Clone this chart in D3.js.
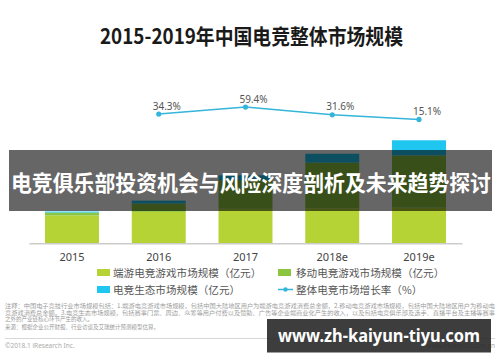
<!DOCTYPE html>
<html>
<head>
<meta charset="utf-8">
<script src="https://cdn.jsdelivr.net/npm/d3@7"></script>
<style>
  body { margin: 0; background: #fff; }
  svg { display: block; font-family: "Noto Sans CJK SC", "Noto Sans", sans-serif; }
</style>
</head>
<body>
<svg id="chart" width="500" height="362"></svg>
<script>
/*    ========    DATA    =========    */

var years = ["2015", "2016", "2017", "2018e", "2019e"];
var pcGame = [265, 300, 330, 335, 340];       // 端游电竞游戏市场规模（亿元）
var mobileGame = [29, 80, 275, 436, 500];     // 移动电竞游戏市场规模（亿元）
var ecosystem = [10, 28, 45, 85, 145];        // 电竞生态市场规模（亿元）
var growth = [null, 34.3, 59.4, 31.6, 15.1];  // 整体电竞市场增长率（%）

var seriesNames = ["端游电竞游戏市场规模（亿元）", "移动电竞游戏市场规模（亿元）",
                   "电竞生态市场规模（亿元）", "整体电竞市场增长率（%）"];

var notes = [
    "注释：中国电子竞技行业市场规模包括：1.端游电竞游戏市场规模，包括中国大陆地区用户为端游电竞游戏消费总金额，2.移动电竞游戏市场规模，包括中国大陆地区用户为移动电",
    "竞游戏消费总金额。3.电竞生态市场规模，包括赛事门票、周边、众筹等用户付费以及赞助、广告等企业端商业化产生的收入，以及包括电竞俱乐部及选手、直播平台及主播等赛事",
    "之外的产业链核心环节产生的收入。",
    "来源：根据企业公开财报、行业访谈及艾瑞统计预测模型估算。"
];

/*    ========    SETTINGS    =========    */

var svg = d3.select("#chart");
var COLORS = ["#b5d334", "#8cc540", "#1fc6ef"];
var LINE_COLOR = "#35b5d9";

var x = d3.scaleBand().domain(years).range([29, 462])
    .paddingInner(0.378).paddingOuter(0.1845);
var y = d3.scaleLinear().domain([0, 1000]).range([243.3, 138.7]);
var yRate = d3.scaleLinear().domain([0, 100]).range([123.6, 95.7]);

// title
svg.append("text")
    .attr("x", 100).attr("y", 43.5)
    .attr("textLength", 303).attr("lengthAdjust", "spacingAndGlyphs")
    .style("font-size", "21px").style("font-weight", "bold").style("fill", "#1a1a1a")
    .text("2015-2019年中国电竞整体市场规模");

// == stacked bars == //
var rows = years.map(function(yr, i) {
    return { year: yr, pc: pcGame[i], mobile: mobileGame[i], eco: ecosystem[i] };
});
var stack = d3.stack().keys(["pc", "mobile", "eco"])(rows);

svg.append("g").selectAll("g")
    .data(stack)
    .join("g")
    .attr("fill", function(d, i) { return COLORS[i]; })
    .selectAll("rect")
    .data(function(d) { return d; })
    .join("rect")
    .attr("x", function(d) { return x(d.data.year); })
    .attr("width", x.bandwidth())
    .attr("y", function(d) { return y(d[1]); })
    .attr("height", function(d) { return y(d[0]) - y(d[1]); });

// x axis
var axisX = svg.append("g")
    .attr("transform", "translate(0," + y(0) + ")")
    .call(d3.axisBottom(x).tickSize(0).tickPadding(10));
axisX.select(".domain").attr("stroke", "#cccccc").attr("stroke-width", 1.5);
axisX.selectAll("text")
    .style("font-size", "11px").style("fill", "#444")
    .style("font-family", "\"Noto Sans\", sans-serif");

// == growth line == //
var pts = years.map(function(yr, i) { return { year: yr, v: growth[i] }; })
    .filter(function(d) { return d.v != null; });

var line = d3.line()
    .x(function(d) { return x(d.year) + x.bandwidth() / 2; })
    .y(function(d) { return yRate(d.v); });

svg.append("path")
    .datum(pts)
    .attr("d", line)
    .attr("fill", "none")
    .attr("stroke", LINE_COLOR)
    .attr("stroke-width", 1.5);

svg.append("g").selectAll("circle")
    .data(pts).join("circle")
    .attr("cx", function(d) { return x(d.year) + x.bandwidth() / 2; })
    .attr("cy", function(d) { return yRate(d.v); })
    .attr("r", 2.6)
    .attr("fill", LINE_COLOR);

svg.append("g").selectAll("text")
    .data(pts).join("text")
    .attr("x", function(d) { return x(d.year) + x.bandwidth() / 2 - 6; })
    .attr("y", function(d) { return yRate(d.v) - 4.5; })
    .style("font-size", "10px").style("fill", "#555")
    .style("font-family", "\"Noto Sans\", sans-serif")
    .text(function(d) { return d.v.toFixed(1) + "%"; });

// == legend == //
var legendPos = [[97, 272.5], [278, 272.5], [97, 289.5], [278, 289.5]];
var legend = svg.append("g").selectAll("g")
    .data(seriesNames).join("g")
    .attr("transform", function(d, i) { return "translate(" + legendPos[i][0] + "," + legendPos[i][1] + ")"; });

legend.each(function(d, i) {
    var g = d3.select(this);
    if (i < 3) {
        g.append("rect").attr("x", 0).attr("y", -3.5).attr("width", 13).attr("height", 7)
            .attr("fill", COLORS[i]);
    } else {
        g.append("line").attr("x1", 0).attr("x2", 15).attr("y1", 0).attr("y2", 0)
            .attr("stroke", LINE_COLOR).attr("stroke-width", 1.5);
        g.append("circle").attr("cx", 7.5).attr("cy", 0).attr("r", 2.2).attr("fill", LINE_COLOR);
    }
    g.append("text").attr("x", i % 2 === 0 ? 16 : 18).attr("y", 4)
        .style("font-size", "10.6px").style("fill", "#555")
        .text(d);
});

// == notes == //
var noteY = [308, 314.5, 321, 329];
svg.append("g").selectAll("text")
    .data(notes).join("text")
    .attr("x", 5)
    .attr("y", function(d, i) { return noteY[i]; })
    .attr("textLength", function(d, i) { return i < 2 ? 490 : null; })
    .attr("lengthAdjust", "spacingAndGlyphs")
    .style("font-size", "5.5px").style("fill", "#9a9a9a")
    .text(function(d) { return d; });

svg.append("line")
    .attr("x1", 5).attr("x2", 495).attr("y1", 338.5).attr("y2", 338.5)
    .attr("stroke", "#d8d8d8").attr("stroke-width", 1);

svg.append("text").attr("x", 5).attr("y", 348)
    .style("font-size", "6.5px").style("fill", "#aaa")
    .style("font-family", "\"Noto Sans\", sans-serif")
    .text("©2018.1 iResearch Inc.");
svg.append("text").attr("x", 495).attr("y", 348).attr("text-anchor", "end")
    .style("font-size", "6.5px").style("fill", "#aaa")
    .style("font-family", "\"Noto Sans\", sans-serif")
    .text("www.iresearch.com.cn");

// == overlay banner == //
svg.append("rect")
    .attr("x", 9).attr("y", 150).attr("width", 483).attr("height", 61)
    .attr("fill", "rgba(0,0,0,0.6)");
svg.append("text")
    .attr("x", 11).attr("y", 191)
    .attr("textLength", 480).attr("lengthAdjust", "spacingAndGlyphs")
    .style("font-size", "22px").style("font-weight", "bold").style("fill", "#fff")
    .text("电竞俱乐部投资机会与风险深度剖析及未来趋势探讨");

// == watermark == //
svg.append("rect")
    .attr("x", 267).attr("y", 319).attr("width", 224).attr("height", 33.5)
    .attr("fill", "rgba(40,40,40,0.9)");
svg.append("text")
    .attr("x", 278).attr("y", 342)
    .attr("textLength", 202).attr("lengthAdjust", "spacingAndGlyphs")
    .style("font-size", "17px").style("font-weight", "bold").style("fill", "#fff")
    .style("font-family", "\"Noto Sans\", sans-serif")
    .text("www.zh-kaiyun-tiyu.com");
</script>
</body>
</html>
